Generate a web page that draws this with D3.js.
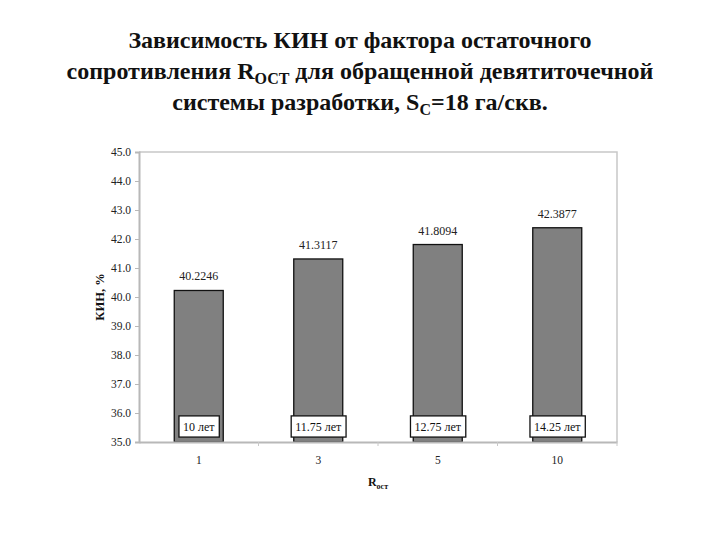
<!DOCTYPE html>
<html>
<head>
<meta charset="utf-8">
<title>КИН от R ост</title>
<script src="https://cdnjs.cloudflare.com/ajax/libs/d3/7.8.5/d3.min.js"></script>
<style>
  body { margin: 0; background: #fff; }
  text { font-family: "Liberation Serif", "Times New Roman", serif; }
</style>
</head>
<body>
<script>
// data
var categories = ["1", "3", "5", "10"];
var kin = [40.2246, 41.3117, 41.8094, 42.3877];
var periods = ["10 лет", "11.75 лет", "12.75 лет", "14.25 лет"];
var yDomain = [35, 45];

var W = 720, H = 540;
var pLeft = 139, pRight = 617, pTop = 152, pBottom = 442;

var svg = d3.select("body").append("svg")
    .attr("width", W)
    .attr("height", H);

// title, three lines
var title = svg.append("text")
    .attr("text-anchor", "middle")
    .attr("font-size", 24)
    .attr("font-weight", "bold")
    .attr("fill", "#111");

title.append("tspan").attr("x", 360).attr("y", 48)
    .text("Зависимость КИН от фактора остаточного");
var l2 = title.append("tspan").attr("x", 360).attr("y", 79);
l2.append("tspan").text("сопротивления R");
l2.append("tspan").attr("font-size", 16).attr("dy", 5).text("ОСТ");
l2.append("tspan").attr("dy", -5).text(" для обращенной девятиточечной");
var l3 = title.append("tspan").attr("x", 360).attr("y", 110);
l3.append("tspan").text("системы разработки, S");
l3.append("tspan").attr("font-size", 16).attr("dy", 5).text("С");
l3.append("tspan").attr("dy", -5).text("=18 га/скв.");

var x = d3.scaleBand()
    .domain(categories)
    .range([pLeft, pRight])
    .paddingInner(0.59)
    .paddingOuter(0.295);

var y = d3.scaleLinear()
    .domain(yDomain)
    .range([pBottom, pTop]);

// plot frame (top and right)
svg.append("path")
    .attr("d", "M" + pLeft + "," + pTop + "H" + pRight + "V" + pBottom)
    .attr("fill", "none")
    .attr("stroke", "#c8c8c8")
    .attr("stroke-width", 1.5);

// y axis
var yAxis = svg.append("g")
    .attr("transform", "translate(" + pLeft + ",0)")
    .call(d3.axisLeft(y).ticks(10).tickFormat(d3.format(".1f")).tickSize(4).tickPadding(4));
yAxis.select(".domain").attr("stroke", "#b8b8b8").attr("stroke-width", 2);
yAxis.selectAll(".tick line").attr("stroke", "#b8b8b8");
yAxis.selectAll(".tick text")
    .attr("font-family", "Liberation Serif")
    .attr("font-size", 11.5)
    .attr("fill", "#222");

// bars
svg.selectAll(".bar")
    .data(categories)
    .enter().append("rect")
    .attr("class", "bar")
    .attr("x", function(d) { return x(d); })
    .attr("y", function(d, i) { return y(kin[i]); })
    .attr("width", x.bandwidth())
    .attr("height", function(d, i) { return y(yDomain[0]) - y(kin[i]); })
    .attr("fill", "#808080")
    .attr("stroke", "#111")
    .attr("stroke-width", 1.3);

// x axis
var step = x.step();
var xAxis = svg.append("g")
    .attr("transform", "translate(0," + pBottom + ")")
    .call(d3.axisBottom(x).tickSize(0).tickPadding(14));
xAxis.select(".domain").attr("stroke", "#b8b8b8").attr("stroke-width", 2);
xAxis.selectAll(".tick text")
    .attr("font-family", "Liberation Serif")
    .attr("font-size", 11.5)
    .attr("fill", "#222");
// small marks between categories
xAxis.selectAll(".sep")
    .data(categories)
    .enter().append("line")
    .attr("x1", function(d) { return x(d) + x.bandwidth() / 2 + step / 2; })
    .attr("x2", function(d) { return x(d) + x.bandwidth() / 2 + step / 2; })
    .attr("y1", 0).attr("y2", 4)
    .attr("stroke", "#c8c8c8");

// value labels
svg.selectAll(".val")
    .data(categories)
    .enter().append("text")
    .attr("x", function(d) { return x(d) + x.bandwidth() / 2; })
    .attr("y", function(d, i) { return y(kin[i]) - 10; })
    .attr("text-anchor", "middle")
    .attr("font-size", 12)
    .attr("fill", "#222")
    .text(function(d, i) { return kin[i]; });

// period boxes at bar bottoms
var boxes = svg.selectAll(".per")
    .data(categories)
    .enter().append("g")
    .attr("class", "per");
boxes.each(function(d, i) {
    var g = d3.select(this);
    var cx = x(d) + x.bandwidth() / 2;
    var t = g.append("text")
        .attr("x", cx)
        .attr("y", y(35.53) + 4.5)
        .attr("text-anchor", "middle")
        .attr("font-size", 12)
        .attr("fill", "#111")
        .text(periods[i]);
    var bb = t.node().getBBox();
    g.insert("rect", "text")
        .attr("x", bb.x - 4)
        .attr("y", y(35.9))
        .attr("width", bb.width + 8)
        .attr("height", y(35.17) - y(35.9))
        .attr("fill", "#fff")
        .attr("stroke", "#111")
        .attr("stroke-width", 1.3);
});

// y axis title
svg.append("text")
    .attr("transform", "translate(104," + y(40) + ") rotate(-90)")
    .attr("text-anchor", "middle")
    .attr("font-size", 12.5)
    .attr("font-weight", "bold")
    .attr("fill", "#111")
    .text("КИН, %");

// x axis title
var xt = svg.append("text")
    .attr("x", x("3") + x.bandwidth() / 2 + step / 2)
    .attr("y", 486)
    .attr("text-anchor", "middle")
    .attr("font-size", 12)
    .attr("font-weight", "bold")
    .attr("fill", "#111");
xt.append("tspan").text("R");
xt.append("tspan").attr("font-size", 8).attr("dy", 3).text("ост");
</script>
</body>
</html>
